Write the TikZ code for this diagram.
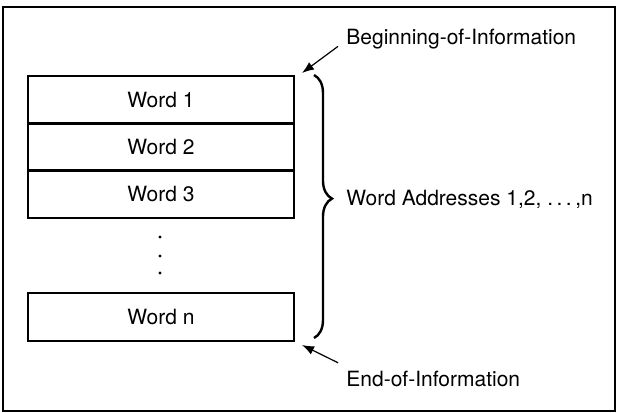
\documentclass[tikz,border=0pt]{standalone}
\usepackage{fontspec}
\setmainfont{TeX Gyre Heros}
\usetikzlibrary{decorations.pathreplacing,arrows.meta}
\tikzstyle{wordbox} = [rectangle, draw=black, line width=0.75pt, minimum width=133pt, minimum height=24pt, text centered]
\tikzstyle{note} = [anchor=west, inner sep=0pt]
\tikzstyle{arrow} = [line width=0.6pt,-{Latex[length=6pt,width=4.5pt]}]

\begin{document}
\begin{tikzpicture}[x=0.5pt,y=-0.5pt,node distance=23.5pt,every node/.style={font=\fontsize{10.5pt}{12pt}\selectfont}]

	\useasboundingbox (0,0) rectangle (617,413);
	\draw [line width=1pt] (3,7) rectangle (615,411);

	\node (word1) [wordbox] at (161,100) {Word 1};
	\node (word2) [wordbox,below of=word1] {Word 2};
	\node (word3) [wordbox,below of=word2] {Word 3};
	\node (wordn) [wordbox,below of=word3,node distance=61.5pt] {Word n};

	\foreach \y in {237,256,273}
		\fill (160,\y) circle [radius=0.8pt];

	\draw [decorate,decoration={brace,amplitude=9pt,aspect=0.47},line width=1.2pt] (314,75) -- (314,338);

	\node (addr) [note] at (346,199) {Word Addresses 1,2, .\,.\,.\,,n};
	\node (boi) [note] at (346,39) {Beginning-of-Information};
	\node (eoi) [note] at (346,379) {End-of-Information};

	\coordinate (boitip) at (302,73);
	\coordinate (eoitip) at (302,345);
	\draw [arrow] ([shift={(-8,-3)}]boi.south west) -- (boitip);
	\draw [arrow] ([shift={(-8,-8)}]eoi.north west) -- (eoitip);

\end{tikzpicture}
\end{document}
